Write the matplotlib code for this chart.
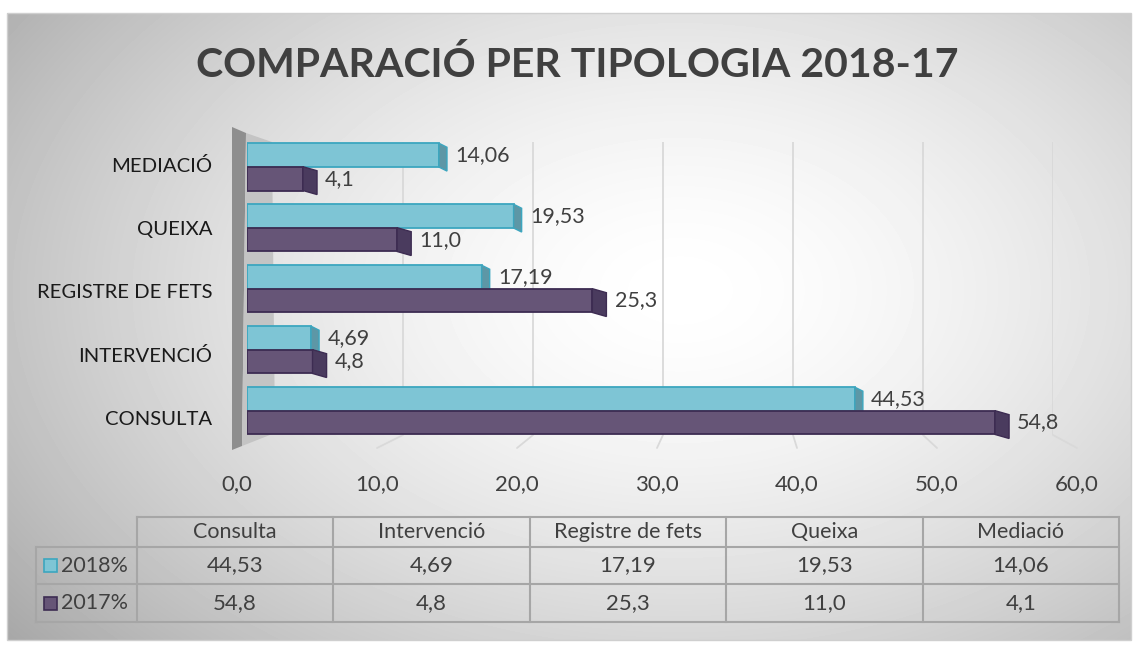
import matplotlib
matplotlib.use("Agg")
import matplotlib.pyplot as plt
from matplotlib.patches import Polygon, Rectangle, ConnectionPatch
import numpy as np

plt.rcParams['font.family'] = ['Lato', 'DejaVu Sans']

# data
categories = ['CONSULTA', 'INTERVENCIÓ', 'REGISTRE DE FETS', 'QUEIXA', 'MEDIACIÓ']
table_cols = ['Consulta', 'Intervenció', 'Registre de fets', 'Queixa', 'Mediació']
series_names = ['2018%', '2017%']
vals_2018 = [44.53, 4.69, 17.19, 19.53, 14.06]
vals_2017 = [54.8, 4.8, 25.3, 11.0, 4.1]
decimals = [2, 1]
xticks = [0, 10, 20, 30, 40, 50, 60]

def fmt(v, d):
    return f"{v:.{d}f}".replace('.', ',')

W, H = 1138, 645
fig = plt.figure(figsize=(W / 100, H / 100), dpi=100)

def px_axes(x0, y0, x1, y1, z):
    a = fig.add_axes([x0 / W, 1 - y1 / H, (x1 - x0) / W, (y1 - y0) / H], zorder=z)
    a.patch.set_alpha(0)
    return a

# background with radial gradient
bg = fig.add_axes([0, 0, 1, 1], zorder=0)
bg.set_xlim(0, W)
bg.set_ylim(H, 0)
bg.axis('off')
yy, xx = np.mgrid[13:640, 7:1131]
r = np.sqrt(((xx - 680) / 720.0) ** 2 + ((yy - 290) / 470.0) ** 2)
g = 1 - 0.26 * np.clip(r, 0, 1.3) ** 1.6
bg.imshow(g, cmap='gray', vmin=0, vmax=1, extent=(7, 1131, 640, 13),
          aspect='auto', interpolation='bilinear')
bg.add_patch(Rectangle((7, 13), 1124, 627, fill=False, ec='#CFCFCF', lw=1))

# left wall
bg.add_patch(Polygon([(232, 127), (246, 133), (242, 446), (232, 450)], closed=True,
                     fc='#8E8E8E', ec='none'))
bg.add_patch(Polygon([(246, 133), (272, 142), (275, 433), (242, 446)], closed=True,
                     fc='#C4C4C4', ec='none'))

# title
fig.text(577 / W, 1 - 65 / H, 'COMPARACIÓ PER TIPOLOGIA 2018-17', ha='center', va='center',
         fontsize=29.5, fontweight='bold', color='#404040')

# back plane gridlines
ax_back = px_axes(273, 142, 1053, 435, 1)
ax_back.set_xlim(0, 60)
ax_back.set_ylim(0, 1)
ax_back.axis('off')
ax_back.vlines(xticks[1:], 0, 1, color='#D9D9D9', lw=1.3)

# front axis with tick labels
ax_front = px_axes(237, 448, 1077, 452, 1)
ax_front.set_xlim(0, 60)
ax_front.set_ylim(0, 1)
ax_front.set_frame_on(False)
ax_front.set_yticks([])
ax_front.set_xticks(xticks)
ax_front.set_xticklabels([fmt(t, 1) for t in xticks], fontsize=16, color='#404040')
ax_front.tick_params(axis='x', length=0, pad=16)

# floor lines joining back plane to front edge
for t in xticks[1:]:
    fig.add_artist(ConnectionPatch(xyA=(t, 0), coordsA=ax_back.transData,
                                   xyB=(t, 1), coordsB=ax_front.transData,
                                   color='#D9D9D9', lw=1.3))

# category labels
ax_lab = px_axes(247, 133, 1066, 450, 1)
ax_lab.set_xlim(0, 60)
ax_lab.set_ylim(-0.5, 4.5)
ax_lab.set_frame_on(False)
ax_lab.set_xticks([])
ax_lab.set_yticks(range(len(categories)))
ax_lab.set_yticklabels(categories, fontsize=14.6, color='#1A1A1A')
ax_lab.tick_params(axis='y', length=0, pad=25)

# bars
ax = px_axes(247, 128, 1066, 450, 3)
ax.set_xlim(0, 60)
ax.set_ylim(-0.64, 4.64)
ax.axis('off')

y = np.arange(len(categories))
h = 0.39
styles = [
    # offset, face, edge, cap, depth, bar zorder, label zorder
    (0.195, '#7EC5D5', '#3CA6BF', '#5D97A6', 0.59, 2, 3),
    (-0.19, '#665577', '#3D2C52', '#4A3B5E', 1.03, 4, 5),
]
sy = 0.066
for vals, d, (off, fc, ec, cc, dx, zb, zl) in zip([vals_2018, vals_2017], decimals, styles):
    yc = y + off
    ax.barh(yc, vals, height=h, color=fc, edgecolor=ec, lw=1.3, zorder=zb)
    for v, c in zip(vals, yc):
        top, bot = c + h / 2, c - h / 2
        ax.add_patch(Polygon([(v, bot), (v, top), (v + dx, top - sy), (v + dx, bot - sy)],
                             closed=True, fc=cc, ec=ec, lw=1.0, zorder=zb))
        ax.text(v + dx + 0.6, c, fmt(v, d), ha='left', va='center', fontsize=15.5,
                color='#404040', zorder=zl)

# data table
tab_left, tab_mid, tab_right = 36, 137, 1119
row_edges = [517, 547, 584, 622]
col_edges = np.linspace(tab_mid, tab_right, len(table_cols) + 1)
lc = '#A6A6A6'
bg.plot([tab_mid, tab_right], [row_edges[0]] * 2, color=lc, lw=1.5)
for ry in row_edges[1:]:
    bg.plot([tab_left, tab_right], [ry, ry], color=lc, lw=1.5)
bg.plot([tab_left, tab_left], [row_edges[1], row_edges[-1]], color=lc, lw=1.5)
for cx in col_edges:
    bg.plot([cx, cx], [row_edges[0], row_edges[-1]], color=lc, lw=1.5)

col_mid = (col_edges[:-1] + col_edges[1:]) / 2
row_mid = [(row_edges[i] + row_edges[i + 1]) / 2 for i in range(3)]
for cx, name in zip(col_mid, table_cols):
    bg.text(cx, row_mid[0], name, ha='center', va='center', fontsize=15.5, color='#404040')
for ri, (vals, d, name, st) in enumerate(zip([vals_2018, vals_2017], decimals, series_names, styles)):
    ym = row_mid[ri + 1]
    bg.add_patch(Rectangle((44, ym - 6.5), 13, 13, fc=st[1], ec=st[2], lw=1.2))
    bg.text(61, ym, name, ha='left', va='center', fontsize=15.5, color='#404040')
    for cx, v in zip(col_mid, vals):
        bg.text(cx, ym, fmt(v, d), ha='center', va='center', fontsize=16, color='#404040')

fig.savefig('out.png', dpi=100)
